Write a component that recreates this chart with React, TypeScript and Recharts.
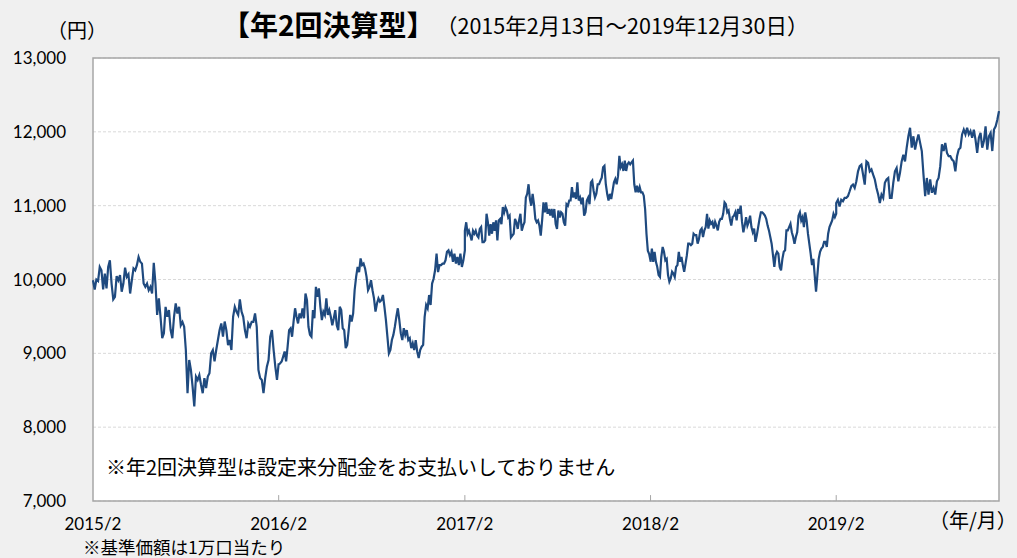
import React from 'react';
import { LineChart, Line, XAxis, YAxis, CartesianGrid, ReferenceArea, ReferenceLine } from 'recharts';

// Tick positions in days since 2015-02-13 (start of series)
const tickDays = [0, 365, 731, 1096, 1461];
const endDay = 1781; // 2019-12-30
const tickLabels = ['2015/2', '2016/2', '2017/2', '2018/2', '2019/2'];
const yTicks = [7000, 8000, 9000, 10000, 11000, 12000, 13000];

// NAV (円), evenly spaced within each yearly span
const nav2015 = [9990, 9865, 10000, 9980, 10170, 10125, 9865, 10080, 9880, 10170, 10260, 9945, 9730, 9765, 10045, 9990, 10060, 9835, 9945, 10160, 10035, 10070, 9810, 9990, 10150, 10125, 10195, 10305, 10240, 10215, 9945, 9900, 9945, 9855, 9900, 9810, 10225, 9945, 9520, 9745, 9495, 9205, 9270, 9630, 9495, 9585, 9315, 9205, 9495, 9675, 9540, 9630, 9380, 9425, 9360, 9045, 8460, 8910, 8775, 8550, 8280, 8685, 8640, 8705, 8575, 8460, 8665, 8530, 8685, 8730, 9000, 9045, 8890, 9045, 9180, 9315, 9405, 9225, 9430, 9315, 9110, 9180, 9045, 9495, 9630, 9565, 9520, 9730, 9565, 9495, 9315, 9205, 9405, 9360, 9425, 9425, 9540, 9360, 8775, 8665, 8640, 8460, 8665, 8820, 8910, 9225, 9315, 9045, 8820, 8640, 8865];
const nav2016 = [8845, 8865, 8890, 8955, 9025, 8890, 9090, 9315, 9340, 9225, 9430, 9610, 9495, 9405, 9540, 9475, 9610, 9475, 9810, 9720, 9360, 9250, 9225, 9585, 9475, 9900, 9765, 9880, 9630, 9450, 9565, 9520, 9745, 9520, 9585, 9495, 9380, 9475, 9585, 9380, 9315, 9630, 9585, 9340, 9315, 9070, 9115, 9315, 9520, 9430, 9540, 9855, 10035, 10170, 10100, 10285, 10195, 10215, 10150, 10035, 9855, 9900, 9990, 9855, 9745, 9565, 9675, 9745, 9700, 9720, 9790, 9630, 9450, 9225, 9000, 9045, 9180, 9250, 9360, 9495, 9610, 9450, 9270, 9180, 9340, 9250, 9315, 9180, 9205, 9070, 9135, 9045, 9180, 9025, 8935, 9045, 9090, 9115, 9495, 9655, 9610, 9790, 9655, 9945, 10010, 10125, 10350, 10100, 10195, 10195, 10215, 10215, 10260, 10375, 10395, 10330, 10375, 10240, 10350, 10215, 10305, 10195, 10350, 10170, 10260, 10395];
const nav2017 = [10660, 10775, 10620, 10660, 10595, 10530, 10660, 10620, 10660, 10595, 10570, 10685, 10710, 10505, 10505, 10530, 10890, 10775, 10595, 10750, 10620, 10775, 10660, 10800, 10530, 10800, 10820, 10750, 10980, 10910, 10980, 10935, 10840, 10865, 10570, 10595, 10620, 10820, 10775, 10685, 10800, 10890, 10660, 10730, 10775, 11110, 11160, 11290, 11090, 11000, 11160, 11020, 10820, 10775, 10800, 10730, 10595, 10800, 11045, 10910, 11045, 10890, 10955, 10865, 10955, 10840, 10955, 10750, 10685, 10935, 10840, 10910, 10890, 10775, 10730, 11020, 11000, 11070, 11070, 11250, 11110, 11180, 11090, 11315, 11070, 11110, 11020, 11110, 10865, 10910, 11070, 11110, 11020, 11315, 11340, 11200, 11110, 11160, 11290, 11290, 11340, 11380, 11520, 11540, 11290, 11160, 11070, 11160, 11090, 11200, 11315, 11360, 11290, 11400, 11675, 11520, 11560, 11470, 11610, 11470, 11560, 11585, 11560, 11585, 11610, 11290, 11180, 11270, 11180, 11250, 11180, 11180, 11135, 10955, 10620, 10390, 10345, 10255];
const nav2018 = [10240, 10420, 10240, 10375, 10240, 10170, 10060, 10035, 10305, 10440, 10375, 10260, 10280, 10060, 9970, 10015, 10105, 10080, 10035, 10170, 10195, 10375, 10240, 10305, 10195, 10105, 10215, 10330, 10485, 10485, 10465, 10485, 10620, 10600, 10600, 10485, 10550, 10665, 10690, 10575, 10665, 10710, 10890, 10690, 10800, 10755, 10780, 10690, 10780, 10730, 10665, 10780, 10820, 10820, 10890, 11045, 11020, 10910, 10935, 10820, 10730, 10845, 10865, 10910, 10800, 10955, 10890, 11000, 10780, 10640, 10730, 10845, 10730, 10780, 10865, 10710, 10640, 10690, 10510, 10600, 10710, 10820, 10910, 10910, 10890, 10865, 10820, 10730, 10665, 10575, 10485, 10330, 10170, 10330, 10375, 10350, 10170, 10125, 10280, 10375, 10395, 10665, 10665, 10710, 10755, 10640, 10575, 10485, 10575, 10640, 10865, 10910, 10800, 10845, 10710, 10910, 10800, 10620, 10485, 10350, 10195, 10280, 10060, 9835, 10060, 10280, 10375, 10420, 10440, 10510, 10510, 10440, 10620, 10710, 10755, 10800, 10890, 10845, 10890];
const nav2019 = [11035, 11080, 10990, 11080, 11060, 11105, 11105, 11130, 11195, 11265, 11285, 11240, 11330, 11465, 11535, 11555, 11420, 11285, 11600, 11580, 11465, 11490, 11420, 11355, 11240, 11150, 11035, 11150, 11105, 11310, 11355, 11375, 11105, 11105, 11310, 11465, 11510, 11330, 11445, 11600, 11690, 11600, 11785, 11940, 12055, 11785, 11940, 11760, 11875, 11965, 11850, 11740, 11420, 11130, 11375, 11150, 11355, 11175, 11240, 11150, 11330, 11375, 11535, 11830, 11740, 11850, 11715, 11670, 11670, 11625, 11600, 11465, 11670, 11760, 11785, 11965, 12030, 11965, 12055, 11965, 12010, 11920, 12030, 11895, 11715, 11920, 11985, 11785, 11875, 12075, 11760, 11940, 11985, 11740, 12030, 12075, 12165, 12280];

const segments = [nav2015, nav2016, nav2017, nav2018, nav2019];
const bounds = [...tickDays, endDay];
const data = segments.flatMap((vals, k) =>
  vals.map((v, i) => ({
    day: bounds[k] + (i * (bounds[k + 1] - bounds[k])) / (vals.length - 1),
    nav: v,
  }))
);

const numFont = 'Lato, "Noto Sans", sans-serif';
const jpFont = '"Noto Sans CJK JP", "Noto Sans", sans-serif';

const textStyle = (left: number, centerY: number, size: number, extra: React.CSSProperties = {}): React.CSSProperties => ({
  position: 'absolute',
  left,
  top: centerY,
  transform: 'translateY(-50%)',
  fontSize: size,
  lineHeight: 1,
  fontFamily: jpFont,
  color: '#000',
  whiteSpace: 'nowrap',
  ...extra,
});

export default function App() {
  return (
    <div style={{ position: 'absolute', left: 0, top: 0, width: 1017, height: 558, background: '#f0f0f0', overflow: 'hidden' }}>
      <LineChart width={1017} height={558} data={data} margin={{ top: 58, right: 18, bottom: 0, left: 0 }}>
        <CartesianGrid vertical={false} stroke="#d9d9d9" strokeDasharray="3 2" fill="#ffffff" />
        <XAxis
          dataKey="day"
          type="number"
          domain={[0, endDay]}
          ticks={tickDays}
          tickFormatter={(d: number) => tickLabels[tickDays.indexOf(d)] ?? ''}
          height={57}
          tickSize={0}
          tickMargin={17}
          axisLine={false}
          tickLine={false}
          interval={0}
          tick={{ fill: '#000', fontSize: 17, fontFamily: numFont }}
        />
        <YAxis
          domain={[7000, 13000]}
          ticks={yTicks}
          width={93}
          tickSize={0}
          tickMargin={27}
          axisLine={false}
          tickLine={false}
          interval={0}
          tickFormatter={(v: number) => v.toLocaleString('en-US')}
          tick={{ fill: '#000', fontSize: 17, fontFamily: numFont }}
        />
        <ReferenceArea x1={0} x2={endDay} y1={7000} y2={13000} fill="none" stroke="#a6a6a6" strokeWidth={1.5} ifOverflow="visible" />
        {tickDays.slice(1).map((d) => (
          <ReferenceLine key={d} segment={[{ x: d, y: 7000 }, { x: d, y: 7080 }]} stroke="#a6a6a6" strokeWidth={1} ifOverflow="visible" />
        ))}
        <Line type="linear" dataKey="nav" stroke="#1f4a7f" strokeWidth={2.2} dot={false} isAnimationActive={false} />
      </LineChart>
      <div style={textStyle(47, 30, 20)}>（円）</div>
      <div style={textStyle(222, 24, 28, { fontWeight: 700 })}>【年2回決算型】</div>
      <div style={textStyle(436, 25, 21.5)}>（2015年2月13日～2019年12月30日）</div>
      <div style={textStyle(106, 467, 20)}>※年2回決算型は設定来分配金をお支払いしておりません</div>
      <div style={textStyle(83, 547, 17.5)}>※基準価額は1万口当たり</div>
      <div style={textStyle(929, 520, 20)}>（年/月）</div>
    </div>
  );
}
